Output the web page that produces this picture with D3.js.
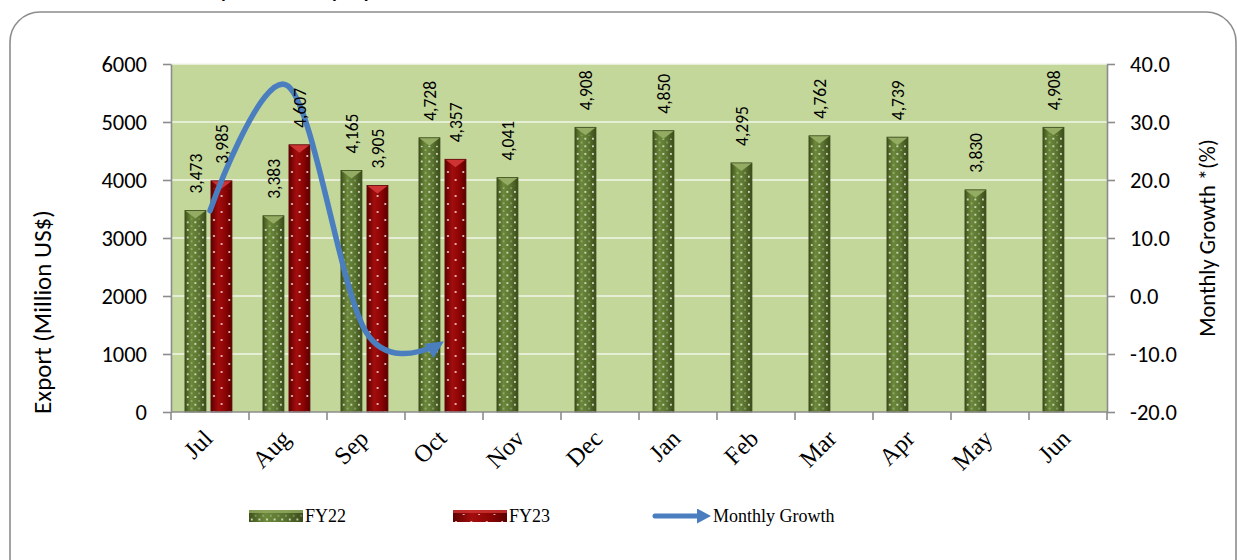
<!DOCTYPE html>
<html>
<head>
<meta charset="utf-8">
<script src="https://cdn.jsdelivr.net/npm/d3@7"></script>
<style>
  body { margin: 0; background: #fff; }
  text { font-family: Carlito, Lato, "Open Sans", sans-serif; }
  .serif { font-family: "Liberation Serif", "DejaVu Serif", serif; }
</style>
</head>
<body>
<svg id="chart"></svg>
<script>
// chart data
var months = ['Jul', 'Aug', 'Sep', 'Oct', 'Nov', 'Dec', 'Jan', 'Feb', 'Mar', 'Apr', 'May', 'Jun'];
var series = ['FY22', 'FY23'];
var fy22 = [3473, 3383, 4165, 4728, 4041, 4908, 4850, 4295, 4762, 4739, 3830, 4908];
var fy23 = [3985, 4607, 3905, 4357];
var growth = [14.7, 36.2, -6.2, -7.8]; // monthly growth %, FY23 over FY22
var leftTicks = [0, 1000, 2000, 3000, 4000, 5000, 6000];
var rightTicks = [-20, -10, 0, 10, 20, 30, 40];

// layout
var width = 1237,
	height = 560,
	plot = { left: 171, right: 1107, top: 64, bottom: 412 },
	lineColor = '#4a7ebf',
	axisColor = '#8c8c8c';

var svg = d3.select('#chart')
	.attr('width', width)
	.attr('height', height);

var x = d3.scaleBand().domain(months).range([plot.left, plot.right]);
var xs = d3.scaleBand().domain(series).range([0, x.bandwidth()])
	.paddingInner(0.1923).paddingOuter(0.596).align(0.45);
var y = d3.scaleLinear().domain([0, 6000]).range([plot.bottom, plot.top]);
var y2 = d3.scaleLinear().domain([-20, 40]).range([plot.bottom, plot.top]);
var bw = xs.bandwidth();

/* --- defs: gradients, dot patterns, arrow --- */
var defs = svg.append('defs');

function gradient(id, stops) {
	var gr = defs.append('linearGradient').attr('id', id)
		.attr('x1', '0%').attr('x2', '100%').attr('y1', '0%').attr('y2', '0%');
	stops.forEach(function(s) {
		gr.append('stop').attr('offset', s[0]).attr('stop-color', s[1]);
	});
}
gradient('gradFY22', [[0, '#3f521c'], [0.3, '#6c893a'], [0.65, '#5a7430'], [1, '#3a4b19']]);
gradient('gradFY23', [[0, '#5e0000'], [0.35, '#a30d0d'], [0.7, '#8a0404'], [1, '#5a0000']]);

var p22 = defs.append('pattern').attr('id', 'dotsFY22')
	.attr('patternUnits', 'userSpaceOnUse').attr('width', 7.6).attr('height', 7.6);
p22.append('circle').attr('cx', 2.8).attr('cy', 2).attr('r', 0.95).attr('fill', '#f4f4ea');
p22.append('circle').attr('cx', 6.6).attr('cy', 5.8).attr('r', 0.75).attr('fill', '#e8ecd8').attr('opacity', 0.7);

var p23 = defs.append('pattern').attr('id', 'dotsFY23')
	.attr('patternUnits', 'userSpaceOnUse').attr('width', 15.4).attr('height', 16);
p23.append('circle').attr('cx', 10.7).attr('cy', 4).attr('r', 1).attr('fill', '#f6dede');
p23.append('circle').attr('cx', 3).attr('cy', 12).attr('r', 1).attr('fill', '#f6dede');
p23.append('circle').attr('cx', 18.4).attr('cy', 12).attr('r', 1).attr('fill', '#f6dede');

defs.append('marker').attr('id', 'arrow')
	.attr('markerUnits', 'userSpaceOnUse')
	.attr('viewBox', '0 0 18 17')
	.attr('refX', 18).attr('refY', 8.5)
	.attr('markerWidth', 18).attr('markerHeight', 17)
	.attr('orient', 'auto')
	.append('path').attr('d', 'M0,0 L18,8.5 L0,17 Z').attr('fill', lineColor);

defs.append('marker').attr('id', 'arrowSmall')
	.attr('markerUnits', 'userSpaceOnUse')
	.attr('viewBox', '0 0 14 15')
	.attr('refX', 14).attr('refY', 7.5)
	.attr('markerWidth', 14).attr('markerHeight', 15)
	.attr('orient', 'auto')
	.append('path').attr('d', 'M0,0 L14,7.5 L0,15 Z').attr('fill', lineColor);

var barStyle = {
	FY22: { grad: 'url(#gradFY22)', dots: 'url(#dotsFY22)', top: '#93ab62', edge: '#3a4a1b' },
	FY23: { grad: 'url(#gradFY23)', dots: 'url(#dotsFY23)', top: '#cf3434', edge: '#5a0a0a' }
};

/* --- frame and title --- */
svg.append('rect')
	.attr('x', 10).attr('y', 12)
	.attr('width', 1226).attr('height', 640)
	.attr('rx', 30)
	.attr('fill', 'none')
	.attr('stroke', axisColor)
	.attr('stroke-width', 1.6);

// the source image crops its title; only the descenders show at the very top
var title = svg.append('text')
	.attr('y', -2)
	.attr('font-size', 20)
	.attr('font-weight', 'bold')
	.attr('font-style', 'italic')
	.text('Yearly and Monthly Export');
var yAt = title.node().getSubStringLength(0, 'Yearly and Monthl'.length);
title.attr('x', 332 - yAt);

/* --- plot area --- */
svg.append('rect')
	.attr('x', plot.left).attr('y', plot.top)
	.attr('width', plot.right - plot.left)
	.attr('height', plot.bottom - plot.top)
	.attr('fill', '#c4d79b');

svg.append('g').selectAll('line')
	.data(leftTicks.slice(1))
	.enter().append('line')
		.attr('x1', plot.left).attr('x2', plot.right)
		.attr('y1', function(d) { return y(d); })
		.attr('y2', function(d) { return y(d); })
		.attr('stroke', '#f3f6ea')
		.attr('stroke-width', 1.6);

/* --- bars --- */
var barData = [];
months.forEach(function(m, i) {
	barData.push({ month: m, key: 'FY22', value: fy22[i] });
	if (i < fy23.length) barData.push({ month: m, key: 'FY23', value: fy23[i] });
});

var bars = svg.append('g').selectAll('.bar')
	.data(barData)
	.enter().append('g')
		.attr('class', 'bar')
		.attr('transform', function(d) {
			return 'translate(' + (x(d.month) + xs(d.key)) + ',0)';
		});

bars.append('rect')
	.attr('x', 0).attr('width', bw)
	.attr('y', function(d) { return y(d.value); })
	.attr('height', function(d) { return plot.bottom - y(d.value); })
	.attr('fill', function(d) { return barStyle[d.key].grad; });

bars.append('rect')
	.attr('x', 0).attr('width', bw)
	.attr('y', function(d) { return y(d.value) + 8; })
	.attr('height', function(d) { return plot.bottom - y(d.value) - 8; })
	.attr('fill', function(d) { return barStyle[d.key].dots; });

bars.append('path')
	.attr('d', function(d) {
		var t = y(d.value);
		return 'M0,' + t + 'L' + bw + ',' + t + 'L' + (bw / 2) + ',' + (t + 8) + 'Z';
	})
	.attr('fill', function(d) { return barStyle[d.key].top; });

bars.append('rect')
	.attr('x', 0).attr('width', bw)
	.attr('y', function(d) { return y(d.value); })
	.attr('height', function(d) { return plot.bottom - y(d.value); })
	.attr('fill', 'none')
	.attr('stroke', function(d) { return barStyle[d.key].edge; })
	.attr('stroke-width', 0.8);

/* --- axes --- */
function styleAxis(g, size) {
	g.select('.domain').attr('stroke', axisColor).attr('stroke-width', 1.6);
	g.selectAll('.tick line').attr('stroke', axisColor).attr('stroke-width', 1.6);
	g.selectAll('.tick text').attr('font-size', size).attr('fill', '#000')
		.style('font-family', 'Carlito, Lato, "Open Sans", sans-serif');
}

svg.append('g')
	.attr('transform', 'translate(' + plot.left + ',0)')
	.call(d3.axisLeft(y).tickValues(leftTicks).tickSize(8).tickSizeOuter(0)
		.tickPadding(16).tickFormat(d3.format('d')))
	.call(styleAxis, 22.5);

svg.append('g')
	.attr('transform', 'translate(' + plot.right + ',0)')
	.call(d3.axisRight(y2).tickValues(rightTicks).tickSize(8).tickSizeOuter(0)
		.tickPadding(15).tickFormat(function(d) { return d.toFixed(1); }))
	.call(styleAxis, 22.5);

// category axis: ticks sit on the category boundaries
var xAxis = svg.append('g');
xAxis.append('line')
	.attr('x1', plot.left).attr('x2', plot.right)
	.attr('y1', plot.bottom).attr('y2', plot.bottom)
	.attr('stroke', axisColor).attr('stroke-width', 1.6);
xAxis.selectAll('.xtick')
	.data(months.map(function(m) { return x(m); }).concat([plot.right]))
	.enter().append('line')
		.attr('class', 'xtick')
		.attr('x1', function(d) { return d; }).attr('x2', function(d) { return d; })
		.attr('y1', plot.bottom).attr('y2', plot.bottom + 8)
		.attr('stroke', axisColor).attr('stroke-width', 1.6);
xAxis.selectAll('.xlabel')
	.data(months)
	.enter().append('text')
		.attr('class', 'xlabel serif')
		.attr('transform', function(d) {
			return 'translate(' + (x(d) + x.bandwidth() / 2 + 4) + ',440) rotate(-45)';
		})
		.attr('text-anchor', 'end')
		.attr('font-size', 24.5)
		.attr('fill', '#000')
		.text(function(d) { return d; });

// axis titles
svg.append('text')
	.attr('transform', 'translate(42,312) rotate(-90)')
	.attr('text-anchor', 'middle')
	.attr('dy', '0.35em')
	.attr('font-size', 25)
	.text('Export (Million US$)');

svg.append('text')
	.attr('transform', 'translate(1207,238) rotate(-90)')
	.attr('text-anchor', 'middle')
	.attr('dy', '0.35em')
	.attr('font-size', 22.5)
	.text('Monthly Growth *(%)');

/* --- growth line --- */
var line = d3.line()
	.x(function(d, i) { return x(months[i]) + x.bandwidth() / 2; })
	.y(function(d) { return y2(d); })
	.curve(d3.curveCatmullRom.alpha(0));

var growthPath = svg.append('path')
	.datum(growth)
	.attr('d', line)
	.attr('fill', 'none')
	.attr('stroke', lineColor)
	.attr('stroke-width', 5.5)
	.attr('stroke-linecap', 'round')
	.attr('marker-end', 'url(#arrow)');
var len = growthPath.node().getTotalLength();
growthPath.attr('stroke-dasharray', (len - 12) + ',' + (len + 50));

/* --- value labels, rotated, on top of everything --- */
svg.append('g').selectAll('text')
	.data(barData)
	.enter().append('text')
		.attr('transform', function(d) {
			return 'translate(' + (x(d.month) + xs(d.key) + bw / 2) + ',' + (y(d.value) - 17) + ') rotate(-90)';
		})
		.attr('dy', '0.36em')
		.attr('font-size', 17.5)
		.attr('fill', '#000')
		.text(function(d) { return d3.format(',')(d.value); });

/* --- legend --- */
var legY = 516;
var leg = svg.append('g');

[['FY22', 249], ['FY23', 453]].forEach(function(s) {
	var g = leg.append('g').attr('transform', 'translate(' + s[1] + ',' + (legY - 6) + ')');
	g.append('rect').attr('width', 54).attr('height', 12).attr('fill', barStyle[s[0]].grad);
	g.append('rect').attr('y', 4).attr('width', 54).attr('height', 8).attr('fill', barStyle[s[0]].dots);
	g.append('rect').attr('width', 54).attr('height', 3).attr('fill', barStyle[s[0]].top).attr('opacity', 0.8);
	leg.append('text').attr('class', 'serif')
		.attr('x', s[1] + 56).attr('y', legY).attr('dy', '0.33em')
		.attr('font-size', 18).text(s[0]);
});

leg.append('line')
	.attr('x1', 655).attr('x2', 711)
	.attr('y1', legY).attr('y2', legY)
	.attr('stroke', lineColor).attr('stroke-width', 5)
	.attr('stroke-linecap', 'round')
	.attr('stroke-dasharray', '46,100')
	.attr('marker-end', 'url(#arrowSmall)');
leg.append('text').attr('class', 'serif')
	.attr('x', 713).attr('y', legY).attr('dy', '0.33em')
	.attr('font-size', 18).text('Monthly Growth');
</script>
</body>
</html>
